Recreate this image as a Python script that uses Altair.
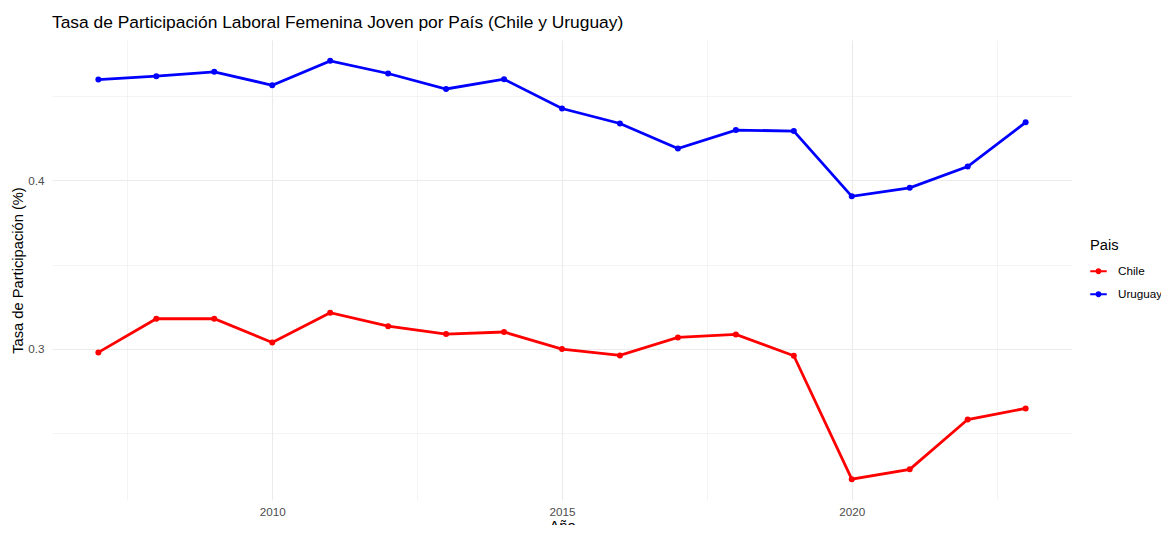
import altair as alt
import pandas as pd

years = list(range(2007, 2024))
chile = [0.2978, 0.3178, 0.3178, 0.3037, 0.3214, 0.3134, 0.3087, 0.3099, 0.2998,
         0.2960, 0.3067, 0.3085, 0.2958, 0.2225, 0.2283, 0.2579, 0.2645]
uruguay = [0.4599, 0.4619, 0.4645, 0.4565, 0.4710, 0.4635, 0.4543, 0.4601, 0.4427,
           0.4338, 0.4189, 0.4299, 0.4293, 0.3905, 0.3956, 0.4082, 0.4345]
countries = ["Chile", "Uruguay"]
colors = ["#FF0000", "#0000FF"]
x_grid = [2007.5, 2010, 2012.5, 2015, 2017.5, 2020, 2022.5]
y_grid = [0.25, 0.3, 0.35, 0.4, 0.45]

df = pd.DataFrame({
    "Año": years * 2,
    "Tasa": chile + uruguay,
    "Pais": ["Chile"] * len(years) + ["Uruguay"] * len(years),
})

FONT = "Liberation Sans"
sym_path = ("M -1 -0.13 L 1 -0.13 L 1 0.13 L -1 0.13 Z "
            "M 0.36 0 A 0.36 0.36 0 1 1 -0.36 0 A 0.36 0.36 0 1 1 0.36 0 Z")

x = alt.X("Año:Q", title="Año",
          scale=alt.Scale(domain=[2006.2, 2023.8], nice=False, zero=False),
          axis=alt.Axis(values=x_grid, ticks=False, domain=False,
                        labelExpr="datum.value % 5 === 0 ? format(datum.value, 'd') : ''",
                        gridColor="#EBEBEB",
                        gridWidth={"condition": {"test": "datum.value % 5 === 0", "value": 1.1}, "value": 0.55},
                        labelPadding=6, titlePadding=1))
y = alt.Y("Tasa:Q", title="Tasa de Participación (%)",
          scale=alt.Scale(domain=[0.2101, 0.4834], nice=False, zero=False),
          axis=alt.Axis(values=y_grid, ticks=False, domain=False,
                        labelExpr="abs(datum.value*10 - round(datum.value*10)) < 0.001 ? format(datum.value, '.1f') : ''",
                        gridColor="#EBEBEB",
                        gridWidth={"condition": {"test": "abs(datum.value*10 - round(datum.value*10)) < 0.001", "value": 1.1}, "value": 0.55},
                        labelPadding=8, titlePadding=2))

legend = alt.Legend(title="Pais", orient="none", legendX=1038, legendY=198,
                    symbolType=sym_path, symbolSize=272,
                    symbolFillColor="#888888", symbolStrokeWidth=0, symbolOpacity=1,
                    labelOffset=11, rowPadding=7, titlePadding=10)
color = alt.Color("Pais:N", scale=alt.Scale(domain=countries, range=colors), legend=legend)

points = alt.Chart(df).mark_circle(size=36, opacity=1).encode(x=x, y=y, color=color)
lines = alt.Chart(df).mark_line(strokeWidth=2.8).encode(x=x, y=y, color=color)

chart = alt.layer(points, lines).properties(
    width=1020, height=460,
    padding={"left": 44, "top": 32, "right": 89, "bottom": 25},
    autosize=alt.AutoSizeParams(type="none"),
    title=alt.TitleParams("Tasa de Participación Laboral Femenina Joven por País (Chile y Uruguay)",
                          anchor="start", frame="group", fontSize=17.4, fontWeight="normal",
                          color="#000000", font=FONT, offset=9),
).configure_view(stroke=None).configure_axis(
    labelFont=FONT, titleFont=FONT, labelFontSize=11.7, labelColor="#4D4D4D",
    titleFontSize=14.7, titleColor="#000000", titleFontWeight="normal",
).configure_legend(
    labelFont=FONT, titleFont=FONT, labelFontSize=11.7, titleFontSize=14.7,
    titleFontWeight="normal", labelColor="#000000", titleColor="#000000",
)

chart.save("out.html", embed_options={"renderer": "svg", "actions": False})
